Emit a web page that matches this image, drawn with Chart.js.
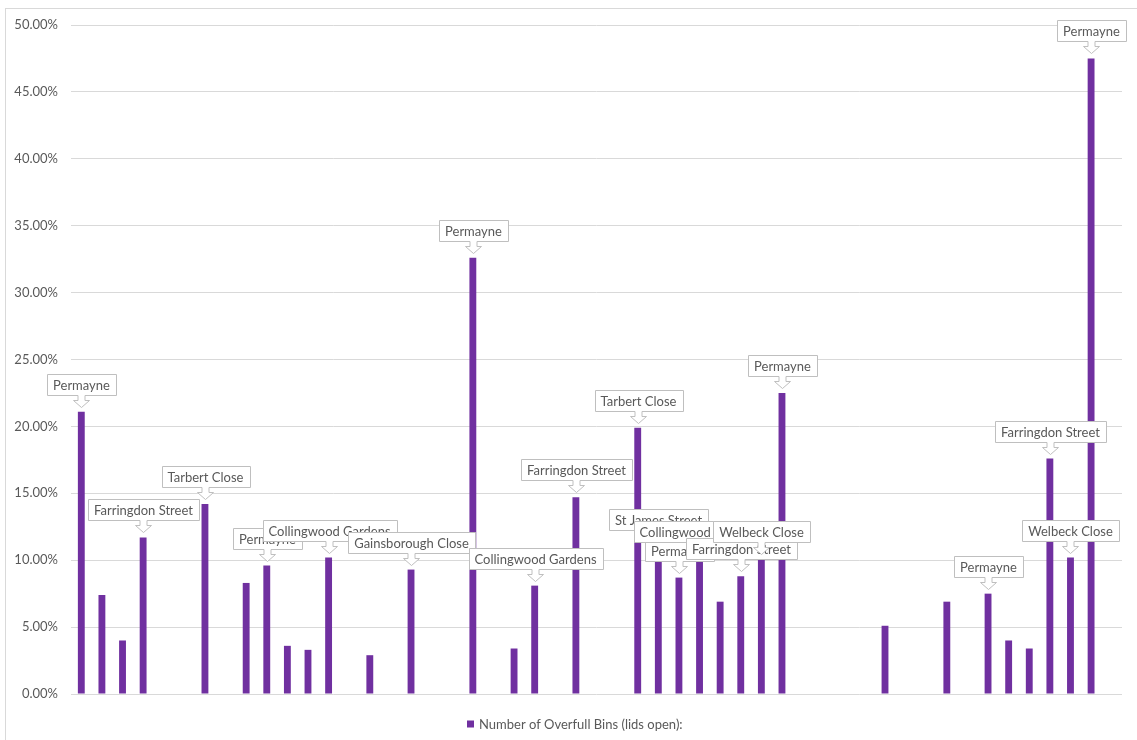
<!DOCTYPE html>
<html>
<head>
<meta charset="utf-8">
<script src="https://cdn.jsdelivr.net/npm/chart.js@4.4.1/dist/chart.umd.min.js"></script>
<style>
  html, body { margin: 0; padding: 0; background: #ffffff; overflow: hidden; }
  #wrap { position: relative; width: 1137px; height: 740px; }
</style>
</head>
<body>
<div id="wrap"><canvas id="chart" width="1137" height="740"></canvas></div>
<script>
// Visit slots along the horizontal axis (not printed on the chart)
const categories = [
  '1','2','3','4','5','6','7','8','9','10',
  '11','12','13','14','15','16','17','18','19','20',
  '21','22','23','24','25','26','27','28','29','30',
  '31','32','33','34','35','36','37','38','39','40',
  '41','42','43','44','45','46','47','48','49','50','51'
];

// Share of bins found overfull with lids open, in percent
const overfullShare = [
  21.1, 7.4, 4.0, 11.7, 0, 0, 14.2, 0, 8.3, 9.6,
  3.6, 3.3, 10.2, 0, 2.9, 0, 9.3, 0, 0, 32.6,
  0, 3.4, 8.1, 0, 14.7, 0, 0, 19.9, 11.0, 8.7,
  10.1, 6.9, 8.8, 10.1, 22.5, 0, 0, 0, 0, 5.1,
  0, 0, 6.9, 0, 7.5, 4.0, 3.4, 17.6, 10.2, 47.5, 0
];

// Street name shown in a callout above selected bars
const streetLabels = [
  'Permayne', '', '', 'Farringdon Street', '', '', 'Tarbert Close', '', '', 'Permayne',
  '', '', 'Collingwood Gardens', '', '', '', 'Gainsborough Close', '', '', 'Permayne',
  '', '', 'Collingwood Gardens', '', 'Farringdon Street', '', '', 'Tarbert Close', 'St James Street', 'Permayne',
  'Collingwood Gardens', '', 'Farringdon Street', 'Welbeck Close', 'Permayne', '', '', '', '', '',
  '', '', '', '', 'Permayne', '', '', 'Farringdon Street', 'Welbeck Close', 'Permayne', ''
];

const seriesName = 'Number of Overfull Bins (lids open):';

const BAR_COLOR = '#7030A0';
const TEXT_COLOR = '#595959';
const GRID_COLOR = '#D9D9D9';
const FONT = 'Lato, "Open Sans", sans-serif';

// Light frame around the chart
const framePlugin = {
  id: 'frame',
  beforeDraw(chart) {
    const ctx = chart.ctx;
    ctx.save();
    ctx.fillStyle = '#ffffff';
    ctx.fillRect(0, 0, chart.width, chart.height);
    ctx.strokeStyle = GRID_COLOR;
    ctx.lineWidth = 1;
    ctx.strokeRect(5.5, 8.5, chart.width + 20, chart.height + 20);
    ctx.restore();
  }
};

// Down-arrow callouts naming the street above a bar
const calloutPlugin = {
  id: 'callouts',
  afterDatasetsDraw(chart) {
    const ctx = chart.ctx;
    const meta = chart.getDatasetMeta(0);
    ctx.save();
    ctx.font = '13px ' + FONT;
    ctx.textAlign = 'center';
    ctx.textBaseline = 'middle';
    meta.data.forEach((bar, i) => {
      const text = streetLabels[i];
      if (!text) return;
      const x = Math.round(bar.x) + 0.5;
      const top = bar.y;
      const w = Math.round(ctx.measureText(text).width + 12);
      const h = 21;
      const bottom = Math.round(top - 17) + 0.5;
      const left = Math.round(x - w / 2) + 0.5;
      const right = left + w;
      const upper = bottom - h;
      ctx.beginPath();
      ctx.moveTo(left, upper);
      ctx.lineTo(right, upper);
      ctx.lineTo(right, bottom);
      ctx.lineTo(x + 3.5, bottom);
      ctx.lineTo(x + 3.5, bottom + 5);
      ctx.lineTo(x + 8, bottom + 5);
      ctx.lineTo(x, bottom + 12);
      ctx.lineTo(x - 8, bottom + 5);
      ctx.lineTo(x - 3.5, bottom + 5);
      ctx.lineTo(x - 3.5, bottom);
      ctx.lineTo(left, bottom);
      ctx.closePath();
      ctx.fillStyle = '#ffffff';
      ctx.fill();
      ctx.strokeStyle = '#BFBFBF';
      ctx.lineWidth = 1;
      ctx.stroke();
      ctx.fillStyle = TEXT_COLOR;
      ctx.fillText(text, x, upper + h / 2 + 0.5);
    });
    ctx.restore();
  }
};

// Single-entry legend under the plot
const legendPlugin = {
  id: 'bottomLegend',
  afterDraw(chart) {
    const ctx = chart.ctx;
    const ds = chart.data.datasets[0];
    ctx.save();
    ctx.font = '13px ' + FONT;
    ctx.textBaseline = 'middle';
    ctx.textAlign = 'left';
    const tw = ctx.measureText(ds.label).width;
    const total = 7 + 5 + tw;
    const cx = 575;
    const y = 724.5;
    const x0 = Math.round(cx - total / 2);
    ctx.fillStyle = ds.backgroundColor;
    ctx.fillRect(x0, y - 4, 7, 7);
    ctx.fillStyle = TEXT_COLOR;
    ctx.fillText(ds.label, x0 + 12, y);
    ctx.restore();
  }
};

new Chart(document.getElementById('chart'), {
  type: 'bar',
  data: {
    labels: categories,
    datasets: [{
      label: seriesName,
      data: overfullShare,
      backgroundColor: BAR_COLOR,
      borderWidth: 0,
      categoryPercentage: 1,
      barPercentage: 0.333
    }]
  },
  options: {
    responsive: false,
    devicePixelRatio: 1,
    animation: false,
    layout: { padding: { left: 0, right: 15, top: 25, bottom: 46 } },
    plugins: {
      legend: { display: false },
      title: { display: false },
      tooltip: { enabled: false }
    },
    scales: {
      x: { display: false },
      y: {
        min: 0,
        max: 50,
        afterFit(scale) { scale.width = 71; },
        border: { display: false },
        grid: { color: GRID_COLOR, lineWidth: 1, drawTicks: false },
        ticks: {
          stepSize: 5,
          padding: 13,
          color: TEXT_COLOR,
          font: { family: FONT, size: 13 },
          callback: (v) => Number(v).toFixed(2) + '%'
        }
      }
    }
  },
  plugins: [framePlugin, calloutPlugin, legendPlugin]
});
</script>
</body>
</html>
